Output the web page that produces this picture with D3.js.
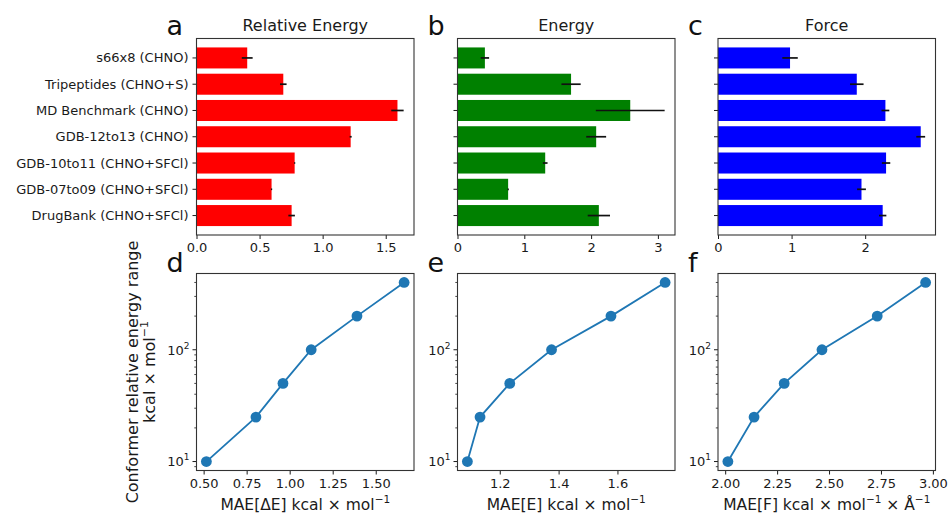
<!DOCTYPE html>
<html>
<head>
<meta charset="utf-8">
<script src="https://cdn.jsdelivr.net/npm/d3@7"></script>
<style>
  html, body { margin: 0; padding: 0; background: #fff; }
  svg { display: block; font-family: "DejaVu Sans", sans-serif; }
</style>
</head>
<body>
<svg id="chart" width="948" height="516"></svg>
<script>
// ---------- data ----------
const categories = ["DrugBank (CHNO+SFCl)", "GDB-07to09 (CHNO+SFCl)", "GDB-10to11 (CHNO+SFCl)",
  "GDB-12to13 (CHNO)", "MD Benchmark (CHNO)", "Tripeptides (CHNO+S)", "s66x8 (CHNO)"];
const relEnergy    = [0.754, 0.595, 0.778, 1.222, 1.593, 0.688, 0.402];
const relEnergyErr = [0.026, 0.005, 0.005, 0.008, 0.049, 0.026, 0.043];
const energy       = [2.116, 0.758, 1.313, 2.076, 2.586, 1.700, 0.410];
const energyErr    = [0.167, 0.010, 0.035, 0.149, 0.515, 0.144, 0.063];
const force        = [2.238, 1.950, 2.284, 2.755, 2.275, 1.886, 0.979];
const forceErr     = [0.050, 0.060, 0.057, 0.060, 0.053, 0.092, 0.105];

const energyRange  = [10, 25, 50, 100, 200, 400];
const maeRelEnergy = [0.516, 0.804, 0.961, 1.125, 1.391, 1.665];
const maeEnergy    = [1.090, 1.133, 1.234, 1.376, 1.578, 1.762];
const maeForce     = [2.013, 2.139, 2.284, 2.466, 2.732, 2.965];

const ticksA = [0, 0.5, 1.0, 1.5];
const ticksB = [0, 1, 2, 3];
const ticksC = [0, 1, 2];
const ticksD = [0.5, 0.75, 1.0, 1.25, 1.5];
const ticksE = [1.2, 1.4, 1.6];
const ticksF = [2.0, 2.25, 2.5, 2.75, 3.0];

// ---------- layout ----------
const svg = d3.select("#chart");
const colLeft = [196.5, 457.5, 718];
const W = 217.5;
const topRow = {y0: 38.5, y1: 235};
const botRow = {y0: 273.5, y1: 470.5};
const ink = "#1a1a1a";
const tickFont = 13;
const labelFont = 15.5;

function frame(g, x0, y0, x1, y1) {
  g.append("rect").attr("x", x0).attr("y", y0).attr("width", x1 - x0).attr("height", y1 - y0)
    .attr("fill", "none").attr("stroke", "#333").attr("stroke-width", 1.1);
}

function letter(txt, x, y) {
  svg.append("text").attr("x", x).attr("y", y).attr("font-size", 27).attr("fill", "#111").text(txt);
}

function xAxis(g, x, y1, ticks, fmt) {
  const ax = g.append("g").attr("transform", `translate(0,${y1})`)
    .call(d3.axisBottom(x).tickValues(ticks).tickFormat(d3.format(fmt)).tickSize(4).tickPadding(4).tickSizeOuter(0));
  ax.select(".domain").remove();
  ax.selectAll(".tick line").attr("stroke", ink);
  ax.selectAll(".tick text").attr("font-size", tickFont).attr("fill", ink).attr("font-family", "DejaVu Sans");
}

// ---------- top row: bar charts ----------
const barPanels = [
  {vals: relEnergy, err: relEnergyErr, color: "#ff0000", title: "Relative Energy", ticks: ticksA, fmt: ".1f", letter: "a", labels: true},
  {vals: energy, err: energyErr, color: "#008000", title: "Energy", ticks: ticksB, fmt: "d", letter: "b", labels: false},
  {vals: force, err: forceErr, color: "#0000ff", title: "Force", ticks: ticksC, fmt: "d", letter: "c", labels: false}
];

barPanels.forEach((p, k) => {
  const x0 = colLeft[k], x1 = x0 + W;
  const g = svg.append("g");
  const maxV = d3.max(p.vals.map((v, i) => v + p.err[i])) * 1.05;
  const x = d3.scaleLinear().domain([0, maxV]).range([x0, x1]);
  const y = d3.scaleLinear().domain([-0.74, categories.length - 1 + 0.74]).range([topRow.y1, topRow.y0]);
  const bh = 0.8 * Math.abs(y(0) - y(1));
  const idx = d3.range(categories.length);

  g.selectAll("rect.bar").data(idx).join("rect").attr("class", "bar")
    .attr("x", x(0)).attr("y", i => y(i) - bh / 2)
    .attr("width", i => x(p.vals[i]) - x(0)).attr("height", bh)
    .attr("fill", p.color);
  g.selectAll("line.err").data(idx).join("line").attr("class", "err")
    .attr("x1", i => x(p.vals[i] - p.err[i])).attr("x2", i => x(p.vals[i] + p.err[i]))
    .attr("y1", i => y(i)).attr("y2", i => y(i))
    .attr("stroke", "#111").attr("stroke-width", 1.7);

  // y ticks
  g.selectAll("line.yt").data(idx).join("line").attr("class", "yt")
    .attr("x1", x0 - 4).attr("x2", x0).attr("y1", i => y(i)).attr("y2", i => y(i))
    .attr("stroke", ink);
  if (p.labels) {
    g.selectAll("text.yl").data(idx).join("text").attr("class", "yl")
      .attr("x", x0 - 8).attr("y", i => y(i)).attr("dy", "0.35em")
      .attr("text-anchor", "end").attr("font-size", tickFont).attr("fill", ink)
      .text(i => categories[i]);
  }
  xAxis(g, x, topRow.y1, p.ticks, p.fmt);
  frame(g, x0, topRow.y0, x1, topRow.y1);
  g.append("text").attr("x", (x0 + x1) / 2).attr("y", 31).attr("text-anchor", "middle")
    .attr("font-size", 16).attr("fill", ink).text(p.title);
  letter(p.letter, x0 - 30, 35);
});

// ---------- bottom row: log line plots ----------
const linePanels = [
  {xs: maeRelEnergy, ticks: ticksD, fmt: ".2f", letter: "d", label: "MAE[ΔE] kcal × mol", tail: ""},
  {xs: maeEnergy, ticks: ticksE, fmt: ".1f", letter: "e", label: "MAE[E] kcal × mol", tail: ""},
  {xs: maeForce, ticks: ticksF, fmt: ".2f", letter: "f", label: "MAE[F] kcal × mol", tail: " × Å"}
];

const lyMin = Math.log10(d3.min(energyRange)), lyMax = Math.log10(d3.max(energyRange));
const lpad = (lyMax - lyMin) * 0.05;
const yLog = d3.scaleLog().domain([Math.pow(10, lyMin - lpad), Math.pow(10, lyMax + lpad)])
  .range([botRow.y1, botRow.y0]);

linePanels.forEach((p, k) => {
  const x0 = colLeft[k], x1 = x0 + W;
  const g = svg.append("g");
  const mn = d3.min(p.xs), mx = d3.max(p.xs), pad = (mx - mn) * 0.05;
  const x = d3.scaleLinear().domain([mn - pad, mx + pad]).range([x0, x1]);

  // log ticks
  const [dlo, dhi] = yLog.domain();
  const minor = [];
  for (let e = 0; e <= 3; e++) for (let m = 2; m <= 9; m++) {
    const v = m * Math.pow(10, e);
    if (v >= dlo && v <= dhi) minor.push(v);
  }
  g.selectAll("line.mn").data(minor).join("line").attr("class", "mn")
    .attr("x1", x0 - 2.2).attr("x2", x0).attr("y1", d => yLog(d)).attr("y2", d => yLog(d))
    .attr("stroke", ink).attr("stroke-width", 0.8);
  const major = [10, 100];
  g.selectAll("line.mj").data(major).join("line").attr("class", "mj")
    .attr("x1", x0 - 4).attr("x2", x0).attr("y1", d => yLog(d)).attr("y2", d => yLog(d))
    .attr("stroke", ink);
  const lab = g.selectAll("text.mjl").data(major).join("text").attr("class", "mjl")
    .attr("x", x0 - 7).attr("y", d => yLog(d)).attr("dy", "0.38em")
    .attr("text-anchor", "end").attr("font-size", tickFont).attr("fill", ink);
  lab.append("tspan").text("10");
  lab.append("tspan").attr("dy", -6).attr("font-size", 9).text(d => String(Math.round(Math.log10(d))));

  xAxis(g, x, botRow.y1, p.ticks, p.fmt);

  const pts = p.xs.map((v, i) => [v, energyRange[i]]);
  g.append("path").datum(pts)
    .attr("d", d3.line().x(d => x(d[0])).y(d => yLog(d[1])))
    .attr("fill", "none").attr("stroke", "#1f77b4").attr("stroke-width", 1.8);
  g.selectAll("circle").data(pts).join("circle")
    .attr("cx", d => x(d[0])).attr("cy", d => yLog(d[1])).attr("r", 5.4)
    .attr("fill", "#1f77b4");

  frame(g, x0, botRow.y0, x1, botRow.y1);

  const t = g.append("text").attr("x", (x0 + x1) / 2).attr("y", 510).attr("text-anchor", "middle")
    .attr("font-size", labelFont).attr("fill", ink);
  t.append("tspan").text(p.label);
  t.append("tspan").attr("dy", -7).attr("font-size", 10.5).text("−1");
  if (p.tail) {
    t.append("tspan").attr("dy", 7).text(p.tail);
    t.append("tspan").attr("dy", -7).attr("font-size", 10.5).text("−1");
  }
  letter(p.letter, x0 - 30, 272);
});

// y-axis label of bottom row
const yc = (botRow.y0 + botRow.y1) / 2;
const yl = svg.append("g").attr("transform", `translate(138,${yc}) rotate(-90)`);
yl.append("text").attr("x", 0).attr("y", 0).attr("text-anchor", "middle")
  .attr("font-size", 16).attr("fill", ink).text("Conformer relative energy range");
const yl2 = yl.append("text").attr("x", 0).attr("y", 17).attr("text-anchor", "middle")
  .attr("font-size", 16).attr("fill", ink);
yl2.append("tspan").text("kcal × mol");
yl2.append("tspan").attr("dy", -7).attr("font-size", 11).text("−1");
</script>
</body>
</html>
